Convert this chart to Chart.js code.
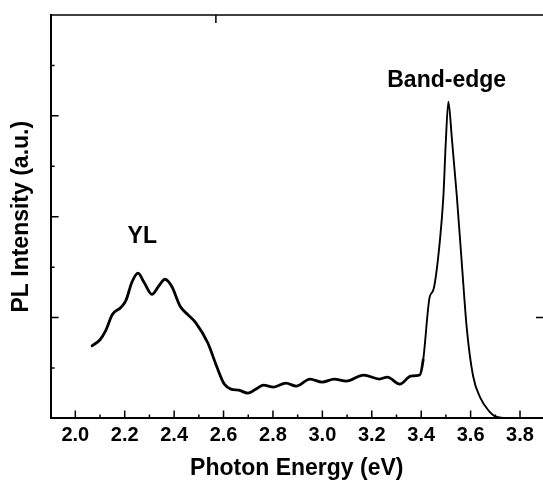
<!DOCTYPE html>
<html>
<head>
<meta charset="utf-8">
<title>PL spectrum</title>
<script src="https://cdn.jsdelivr.net/npm/chart.js@4.4.1/dist/chart.umd.min.js"></script>
<style>
    html, body { margin: 0; padding: 0; background: #fff; }
    #plChart { display: block; }
</style>
</head>
<body>
<canvas id="plChart" width="543" height="482"></canvas>
<script>
// 数据
const photonEnergy = [
    2.068, 2.100, 2.123, 2.150, 2.184, 2.205, 2.229, 2.254, 2.278, 2.310,
    2.337, 2.363, 2.390, 2.425, 2.455, 2.487, 2.536, 2.570, 2.603, 2.630,
    2.662, 2.698, 2.737, 2.761, 2.803, 2.852, 2.894, 2.950, 2.999, 3.048,
    3.097, 3.167, 3.231, 3.263, 3.314, 3.358, 3.394, 3.408, 3.434, 3.450,
    3.476, 3.490, 3.499, 3.510, 3.524, 3.544, 3.564, 3.585, 3.610, 3.640,
    3.672, 3.700, 3.756
];
const plIntensity = [
    0.72, 0.78, 0.87, 1.03, 1.10, 1.17, 1.35, 1.44, 1.35, 1.23,
    1.31, 1.38, 1.31, 1.11, 1.03, 0.95, 0.75, 0.53, 0.34, 0.29,
    0.28, 0.25, 0.30, 0.33, 0.31, 0.35, 0.32, 0.39, 0.36, 0.39,
    0.37, 0.43, 0.39, 0.41, 0.34, 0.42, 0.43, 0.58, 1.20, 1.28,
    1.77, 2.21, 2.71, 3.14, 2.78, 2.21, 1.55, 0.88, 0.42, 0.20,
    0.08, 0.02, 0.00
];

// 刻度
const xLabelTicks = [2.0, 2.2, 2.4, 2.6, 2.8, 3.0, 3.2, 3.4, 3.6, 3.8];
const xMinorTicks = [2.1, 2.3, 2.5, 2.7, 2.9, 3.1, 3.3, 3.5, 3.7];
const yMajorTicks = [1, 2, 3, 4];
const yMinorTicks = [0.5, 1.5, 2.5, 3.5];

const peakLabels = [
    { text: 'YL', x: 2.271, y: 1.80 },
    { text: 'Band-edge', x: 3.503, y: 3.35 }
];

const fontFamily = '"Liberation Sans", Arial, Helvetica, sans-serif';

// inward tick marks, top frame line and peak labels
const frameTicks = {
    id: 'frameTicks',
    afterDraw(chart) {
        const { ctx, chartArea, scales: { x, y } } = chart;
        ctx.save();
        ctx.strokeStyle = '#000';
        ctx.lineWidth = 1.5;
        ctx.beginPath();
        // top frame
        ctx.moveTo(chartArea.left, chartArea.top);
        ctx.lineTo(chartArea.right, chartArea.top);
        xLabelTicks.forEach(v => {
            const px = x.getPixelForValue(v);
            ctx.moveTo(px, chartArea.bottom);
            ctx.lineTo(px, chartArea.bottom - 8);
        });
        xMinorTicks.forEach(v => {
            const px = x.getPixelForValue(v);
            ctx.moveTo(px, chartArea.bottom);
            ctx.lineTo(px, chartArea.bottom - 4);
        });
        yMajorTicks.forEach(v => {
            const py = y.getPixelForValue(v);
            ctx.moveTo(chartArea.left, py);
            ctx.lineTo(chartArea.left + 8, py);
        });
        yMinorTicks.forEach(v => {
            const py = y.getPixelForValue(v);
            ctx.moveTo(chartArea.left, py);
            ctx.lineTo(chartArea.left + 4, py);
        });
        // stray ticks on the top and right edges
        const tx = x.getPixelForValue(2.569);
        ctx.moveTo(tx, chartArea.top);
        ctx.lineTo(tx, chartArea.top + 8);
        const ry = y.getPixelForValue(1);
        ctx.moveTo(chartArea.right, ry);
        ctx.lineTo(chartArea.right - 7, ry);
        ctx.stroke();

        ctx.fillStyle = '#000';
        ctx.font = 'bold 23px ' + fontFamily;
        ctx.textAlign = 'center';
        ctx.textBaseline = 'middle';
        peakLabels.forEach(l => {
            ctx.fillText(l.text, x.getPixelForValue(l.x), y.getPixelForValue(l.y));
        });
        ctx.restore();
    }
};

const points = photonEnergy.map((e, i) => ({ x: e, y: plIntensity[i] }));

new Chart(document.getElementById('plChart'), {
    type: 'line',
    data: {
        datasets: [{
            data: points,
            borderColor: '#000',
            borderWidth: 2.8,
            borderCapStyle: 'round',
            borderJoinStyle: 'round',
            pointRadius: 0,
            fill: false,
            cubicInterpolationMode: 'monotone',
            segment: {
                borderWidth: c => c.p0.parsed.x >= 3.40 ? 1.9 : 2.8
            }
        }]
    },
    options: {
        responsive: false,
        animation: false,
        devicePixelRatio: 1,
        layout: { padding: { left: 0, right: 0, top: 15, bottom: 0 } },
        plugins: {
            legend: { display: false },
            tooltip: { enabled: false }
        },
        scales: {
            x: {
                type: 'linear',
                min: 1.9,
                max: 3.893,
                afterBuildTicks: scale => {
                    scale.ticks = xLabelTicks.map(v => ({ value: v }));
                },
                ticks: {
                    color: '#000',
                    padding: 5,
                    maxRotation: 0,
                    autoSkip: false,
                    font: { family: fontFamily, size: 20, weight: 'bold' },
                    callback: v => v.toFixed(1)
                },
                grid: { display: false, drawTicks: false },
                border: { display: true, color: '#000', width: 2 },
                title: {
                    display: true,
                    text: 'Photon Energy (eV)',
                    color: '#000',
                    font: { family: fontFamily, size: 23, weight: 'bold' },
                    padding: { top: 2, bottom: 0 }
                }
            },
            y: {
                min: 0,
                max: 4,
                ticks: { display: false },
                grid: { display: false, drawTicks: false },
                border: { display: true, color: '#000', width: 2 },
                title: {
                    display: true,
                    text: 'PL Intensity (a.u.)',
                    color: '#000',
                    font: { family: fontFamily, size: 23, weight: 'bold' },
                    padding: { top: 8, bottom: 15 }
                }
            }
        }
    },
    plugins: [frameTicks]
});
</script>
</body>
</html>
